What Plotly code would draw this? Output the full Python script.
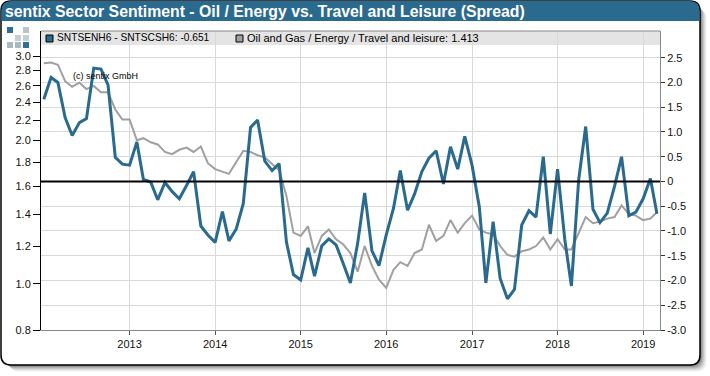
import plotly.graph_objects as go
import pandas as pd

dates = pd.date_range("2012-01-01", "2019-03-01", freq="MS").strftime("%Y-%m-%d").tolist()

spread = [1.66,2.10,2.00,1.29,0.93,1.19,1.27,2.29,2.27,1.95,0.49,0.35,
          0.33,0.80,0.04,-0.01,-0.37,-0.02,-0.20,-0.35,-0.08,0.20,-0.90,-1.08,
          -1.23,-0.61,-1.20,-0.96,-0.45,1.09,1.24,0.41,0.22,0.36,-1.22,-1.88,
          -1.99,-1.34,-1.91,-1.30,-1.16,-1.28,-1.65,-2.05,-1.25,-0.23,-1.40,-1.70,
          -1.08,-0.54,0.22,-0.58,-0.25,0.20,0.47,0.62,-0.05,0.70,0.25,0.91,
          0.33,-0.51,-2.05,-0.81,-1.96,-2.37,-2.18,-0.88,-0.59,-0.72,0.50,-1.06,
          0.25,-1.18,-2.11,0.03,1.11,-0.56,-0.83,-0.64,-0.10,0.50,-0.69,-0.62,
          -0.35,0.06,-0.651]

ratio = [2.90,2.91,2.88,2.66,2.59,2.64,2.56,2.60,2.52,2.52,2.32,2.21,
         2.21,2.00,2.02,1.98,1.96,1.89,1.87,1.91,1.93,1.89,1.94,1.79,
         1.74,1.72,1.70,1.80,1.90,1.89,1.86,1.84,1.78,1.73,1.53,1.28,
         1.26,1.32,1.16,1.26,1.30,1.24,1.21,1.16,1.06,1.20,1.09,1.02,
         0.98,1.07,1.11,1.09,1.16,1.18,1.33,1.23,1.26,1.36,1.28,1.34,
         1.39,1.30,1.28,1.27,1.20,1.15,1.14,1.17,1.18,1.20,1.25,1.18,
         1.24,1.18,1.18,1.28,1.38,1.34,1.35,1.37,1.38,1.46,1.40,1.39,
         1.36,1.37,1.413]

year_ticks = ["2013-01-01","2014-01-01","2015-01-01","2016-01-01","2017-01-01","2018-01-01","2019-01-01"]
year_labels = ["2013","2014","2015","2016","2017","2018","2019"]
left_ticks = [0.8,1.0,1.2,1.4,1.6,1.8,2.0,2.2,2.4,2.6,2.8,3.0]
left_labels = ["0.8","1.0","1.2","1.4","1.6","1.8","2.0","2.2","2.4","2.6","2.8","3.0"]
right_ticks = [-3,-2.5,-2,-1.5,-1,-0.5,0,0.5,1,1.5,2,2.5]
right_labels = ["-3.0","-2.5","-2.0","-1.5","-1.0","-0.5","0","0.5","1.0","1.5","2.0","2.5"]

TITLE = "sentix Sector Sentiment - Oil / Energy vs. Travel and Leisure (Spread)"
LEG1 = "SNTSENH6 - SNTSCSH6: -0.651"
LEG2 = "Oil and Gas / Energy / Travel and leisure: 1.413"
WATERMARK = "(c) sentix GmbH"

BLUE = "#2a6a8f"
GRAY = "#a0a0a0"
FONT = "Liberation Sans"
L, R, T, B = 41, 660, 31, 330

def X(p): return (p - L) / (R - L)
def Y(p): return (B - p) / (B - T)

def rrect(x0, y0, x1, y1, r, top_only=False):
    s = f"M {X(x0)} {Y(y0+r)} Q {X(x0)} {Y(y0)} {X(x0+r)} {Y(y0)} L {X(x1-r)} {Y(y0)} Q {X(x1)} {Y(y0)} {X(x1)} {Y(y0+r)} "
    if top_only:
        s += f"L {X(x1)} {Y(y1)} L {X(x0)} {Y(y1)} Z"
    else:
        s += (f"L {X(x1)} {Y(y1-r)} Q {X(x1)} {Y(y1)} {X(x1-r)} {Y(y1)} "
              f"L {X(x0+r)} {Y(y1)} Q {X(x0)} {Y(y1)} {X(x0)} {Y(y1-r)} Z")
    return s

shapes = []
def pshape(path, fill, line=None, width=0, opacity=1, layer="below"):
    shapes.append(dict(type="path", xref="paper", yref="paper", path=path, fillcolor=fill,
                       line=dict(color=line or fill, width=width), opacity=opacity, layer=layer))
def box(x0, y0, x1, y1, fill, line=None, width=0, layer="below"):
    shapes.append(dict(type="rect", xref="paper", yref="paper", x0=X(x0), x1=X(x1), y0=Y(y0), y1=Y(y1),
                       fillcolor=fill, line=dict(color=line or fill, width=width), layer=layer))

# drop shadow
for off, op in [(8, .05), (7, .06), (6, .08), (5, .10), (4, .12), (3, .15), (2, .2)]:
    pshape(rrect(1+off, 1+off, 700.5+off-2, 365.5+off-2, 10), "#000000", opacity=op)
# card + title bar
pshape(rrect(1, 1, 700, 365, 10), "#ffffff", "#000000", 1.5)
pshape(rrect(1.5, 1, 699.5, 21, 10, top_only=True), BLUE, BLUE, 0)
# legend strip
box(L, T, R, 45, "#e4e4e4")
# logo
for x0, y0, c in [(7,27,"#2e6f95"),(23,27,"#b9c4cb"),(15,35,"#c5ced4"),(23,35,"#c5ced4"),
                  (7,42,"#a9b8c2"),(15,42,"#a9b8c2"),(23,42,"#2e6f95")]:
    box(x0, y0, x0+6, y0+6, c)
# legend swatches
box(46, 35, 53, 42, BLUE, "#000000", 1, layer="above")
box(236, 35, 243, 42, GRAY, "#000000", 1, layer="above")
# plot top border
shapes.append(dict(type="line", xref="paper", yref="paper", x0=0, x1=1, y0=1, y1=1,
                   line=dict(color="#888888", width=1), layer="above"))
# zero reference
shapes.append(dict(type="line", xref="paper", yref="y2", x0=0, x1=1, y0=0, y1=0,
                   line=dict(color="#000000", width=2), layer="above"))

def text(px, py, s, size, color="#000000", bold=False):
    return dict(xref="paper", yref="paper", x=X(px), y=Y(py), text=f"<b>{s}</b>" if bold else s,
                showarrow=False, xanchor="left", yanchor="middle", borderpad=0, borderwidth=0,
                font=dict(family=FONT, size=size, color=color))

fig = go.Figure()
fig.add_trace(go.Scatter(x=dates, y=ratio, mode="lines", yaxis="y", line=dict(color=GRAY, width=2), showlegend=False))
fig.add_trace(go.Scatter(x=dates, y=spread, mode="lines", yaxis="y2", line=dict(color=BLUE, width=3), showlegend=False))

fig.update_layout(
    width=710, height=376, autosize=False,
    margin=dict(l=L, r=710-R, t=T, b=376-B, pad=0, autoexpand=False),
    paper_bgcolor="rgba(0,0,0,0)", plot_bgcolor="rgba(0,0,0,0)",
    font=dict(family=FONT, size=11, color="#111111"),
    showlegend=False, shapes=shapes,
    annotations=[
        text(5, 11, TITLE, 15.8, "#ffffff", True),
        text(57, 38, LEG1, 10.2),
        text(247, 38, LEG2, 11),
        text(73, 76, WATERMARK, 9),
    ],
    xaxis=dict(type="date", range=["2011-12-20", "2019-03-14"], tickvals=year_ticks, ticktext=year_labels,
               showgrid=True, gridcolor="#d9d9d9", gridwidth=1, ticks="outside", ticklen=4, tickcolor="#555555",
               showline=True, linecolor="#888888", linewidth=1, zeroline=False),
    yaxis=dict(type="log", range=[-0.09691, 0.5301], tickvals=left_ticks, ticktext=left_labels,
               showgrid=False, ticks="outside", ticklen=7, tickcolor="#000000",
               showline=True, linecolor="#000000", linewidth=1, zeroline=False),
    yaxis2=dict(overlaying="y", side="right", range=[-3, 3.04], tickvals=right_ticks, ticktext=right_labels,
                showgrid=True, gridcolor="#d9d9d9", gridwidth=1, ticks="outside", ticklen=4, tickcolor="#333333",
                showline=True, linecolor="#888888", linewidth=1, zeroline=False),
)

fig.write_html("out.html", config=dict(displayModeBar=False),
               post_script="document.body.style.margin='0';document.documentElement.style.overflow='hidden';")
